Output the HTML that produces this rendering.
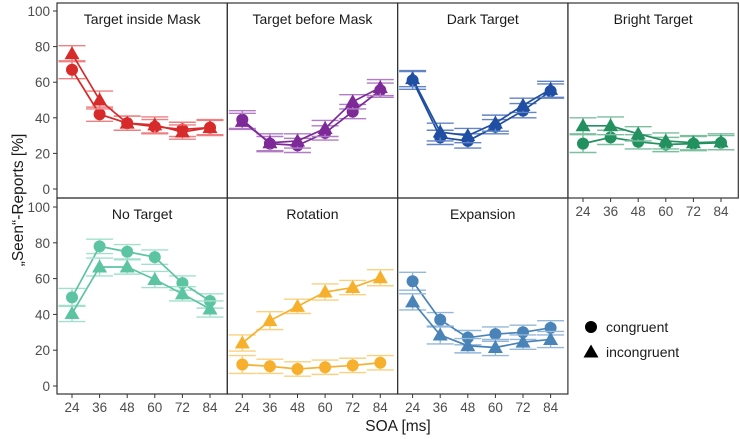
<!DOCTYPE html>
<html><head><meta charset="utf-8"><style>
body{margin:0;background:#fff;}
svg{display:block;font-family:"Liberation Sans",Arial,sans-serif;}
</style></head><body>
<svg id="chart" width="740" height="439"></svg>
<script>
const soa=[24,36,48,60,72,84];
const panelNames=["Target inside Mask","Target before Mask","Dark Target","Bright Target","No Target","Rotation","Expansion"];
const congruent=[
[67,42,37,35,33.5,34.5],
[39,25.5,24.5,31.5,43.5,55.5],
[61,29,27,35,44,55],
[25.5,29,26.5,25,25.5,26],
[49.5,78,75,72,57.5,47.5],
[12,11,9.5,10.5,11.5,13],
[58.5,37,27,29,30,32.5]];
const incongruent=[
[76,50,37,36,32,34.5],
[38,26,27,34,49,57],
[62,32,30,37,47,56],
[35.5,35.5,31,27,26,26.5],
[40.5,66.5,66.5,59.5,51.5,43],
[24,36.5,44.5,52.5,55,60.5],
[47,28.5,22.5,21.5,24.5,26]];
const errC=[5,4,4,4,4,4];
const errI=[4.5,5,4,4.5,4,4.5];
const yTicks=[0,20,40,60,80,100];
const colors=["#d62a2b","#7d2a98","#1f4ea3","#23915f","#5dc4a2","#f7b02d","#4a83b8"];
const light=["#ef7f80","#b07cc4","#6283c4","#7cbf9f","#a3e0cb","#fbd07f","#93b8da"];

const svg=document.getElementById('chart');
const NS="http://www.w3.org/2000/svg";
function mk(t,a,p){const e=document.createElementNS(NS,t);for(const k in a)e.setAttribute(k,a[k]);(p||svg).appendChild(e);return e;}
const pxL=[57,227.3,397.6,568];const pw=170.3;
const rows=[{top:3,bot:198,y0:189,y100:11},{top:198,bot:394,y0:386,y100:207}];
function xs(i,v){return pxL[i]+15+(v-24)/12*27.6;}
function ys(r,v){return r.y0+(r.y100-r.y0)*v/100;}

panelNames.forEach((name,p)=>{
  const row=rows[p<4?0:1];const col=p%4;
  const g=mk('g',{});
  
  
  mk('rect',{x:pxL[col],y:row.top,width:pw,height:row.bot-row.top,fill:'none',stroke:'#333','stroke-width':1.2},g);
  const t=mk('text',{x:pxL[col]+pw/2,y:row.top+21,'text-anchor':'middle','font-size':14,fill:'#1a1a1a'},g);
  t.textContent=name;
  
  
  [[congruent[p],errC,'c'],[incongruent[p],errI,'t']].forEach(([vals,err,shape])=>{
    for(let i=0;i<soa.length;i++){
      const x=xs(col,soa[i]);const y1=ys(row,vals[i]-err[i]),y2=ys(row,vals[i]+err[i]);
      mk('line',{x1:x,x2:x,y1:y1,y2:y2,stroke:light[p],'stroke-width':1.4},g);
      mk('line',{x1:x-13.5,x2:x+13.5,y1:y1,y2:y1,stroke:light[p],'stroke-width':1.4},g);
      mk('line',{x1:x-13.5,x2:x+13.5,y1:y2,y2:y2,stroke:light[p],'stroke-width':1.4},g);
    }
    const pts=soa.map((s,i)=>xs(col,s)+','+ys(row,vals[i])).join(' ');
    const pl=mk('polyline',{points:pts,fill:'none',stroke:colors[p],'stroke-width':1.7},g);
    
    
    soa.forEach((s,i)=>{
      const x=xs(col,s),y=ys(row,vals[i]);let m;
      if(shape=='c'){m=mk('circle',{cx:x,cy:y,r:6,fill:colors[p]},g);}
      else{m=mk('polygon',{points:`${x},${y-7.5} ${x-7.5},${y+5.5} ${x+7.5},${y+5.5}`,fill:colors[p]},g);}
      
      
    });
  });
  if(col==0){
    yTicks.forEach(v=>{
      const y=ys(row,v);
      mk('line',{x1:53,x2:57,y1:y,y2:y,stroke:'#333'});
      const tl=mk('text',{x:50,y:y+5,'text-anchor':'end','font-size':13.5,fill:'#4d4d4d'});
      tl.textContent=v;
      
      
    });
  }
  if(p>=3){
    const by=row.bot;
    soa.forEach(s=>{
      const x=xs(col,s);
      mk('line',{x1:x,x2:x,y1:by,y2:by+4,stroke:'#333'});
      const tl=mk('text',{x:x,y:by+18,'text-anchor':'middle','font-size':13.5,fill:'#4d4d4d'});
      tl.textContent=s;
      
      
    });
  }
});
const xt=mk('text',{x:398,y:431,'text-anchor':'middle','font-size':15.5,fill:'#1a1a1a'});
xt.textContent='SOA [ms]';


const yt=mk('text',{x:0,y:0,'text-anchor':'middle','font-size':15.5,fill:'#1a1a1a',transform:'translate(23,200) rotate(-90)'});
yt.textContent='„Seen“-Reports [%]';


const lg=mk('g',{});


mk('circle',{cx:591,cy:327,r:6,fill:'#000'},lg);
mk('polygon',{points:'591,344.5 583.5,357.5 598.5,357.5',fill:'#000'},lg);
const l1=mk('text',{x:606,y:332,'font-size':14,fill:'#1a1a1a'},lg);l1.textContent='congruent';


const l2=mk('text',{x:606,y:357,'font-size':14,fill:'#1a1a1a'},lg);l2.textContent='incongruent';


</script>
</body></html>
